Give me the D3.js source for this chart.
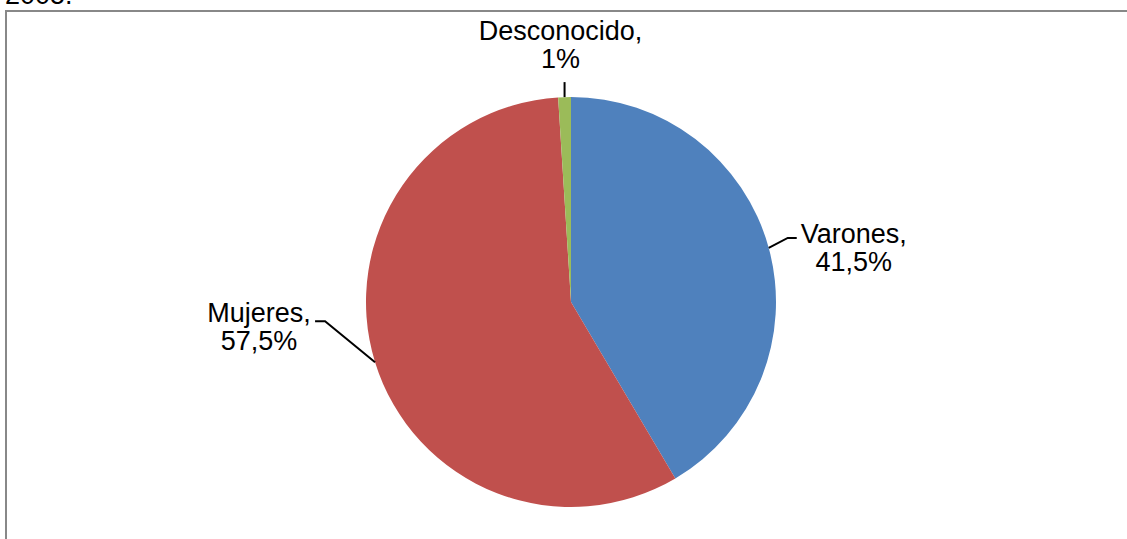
<!DOCTYPE html>
<html>
<head>
<meta charset="utf-8">
<script src="https://cdn.jsdelivr.net/npm/d3@7"></script>
<style>
  html, body { margin: 0; padding: 0; background: #fff; overflow: hidden; }
  svg { display: block; }
  text { font-family: "Liberation Sans", Arial, sans-serif; font-size: 27px; fill: #000; }
</style>
</head>
<body>
<svg id="chart" width="1127" height="539"></svg>
<script>
// ---- data ----
const categories = ["Varones", "Mujeres", "Desconocido"];
const values = [41.5, 57.5, 1];
const valueLabels = ["41,5%", "57,5%", "1%"];
const colors = ["#4F81BD", "#C0504D", "#9BBB59"];
const headerText = "2005.";

// ---- layout ----
const W = 1127, H = 539;
const cx = 571, cy = 302, R = 205;
// leader line geometry per slice: elbow offset from arc point, horizontal tail length, label offset
const leaderLayout = [
  { elbow: [19, -10], tail: 9,  label: [57, 5] },
  { elbow: [-50, -41], tail: -10, label: [-56, 1] },
  { elbow: [0, -15], tail: 0, label: [-4, -42] }
];

const svg = d3.select("#chart");

// header text (cut off at top) and frame
svg.append("text").attr("x", 5).attr("y", 4).text(headerText);
svg.append("rect")
  .attr("x", 6).attr("y", 11)
  .attr("width", W + 20).attr("height", H + 20)
  .attr("fill", "none").attr("stroke", "#888").attr("stroke-width", 2);

const data = categories.map((c, i) => ({ cat: c, value: values[i], label: valueLabels[i], color: colors[i], i }));

const pie = d3.pie().sort(null).value(d => d.value).startAngle(0).endAngle(2 * Math.PI);
const arc = d3.arc().innerRadius(0).outerRadius(R);
const arcs = pie(data);

const g = svg.append("g").attr("transform", `translate(${cx},${cy})`);
g.selectAll("path.slice").data(arcs).enter().append("path")
  .attr("class", "slice")
  .attr("d", arc)
  .attr("fill", d => d.data.color)
  .attr("stroke", "none");

// leader lines and labels
arcs.forEach(a => {
  const mid = (a.startAngle + a.endAngle) / 2;
  const px = cx + R * Math.sin(mid), py = cy - R * Math.cos(mid);
  const L = leaderLayout[a.data.i];
  const ex = px + L.elbow[0], ey = py + L.elbow[1];
  const tx = ex + L.tail;
  svg.append("path")
    .attr("d", d3.line()([[px, py], [ex, ey], [tx, ey]]))
    .attr("fill", "none").attr("stroke", "#000").attr("stroke-width", 2);
  const lx = tx + L.label[0], ly = ey + L.label[1];
  const t = svg.append("text").attr("text-anchor", "middle");
  t.append("tspan").attr("x", lx).attr("y", ly).text(a.data.cat + ",");
  t.append("tspan").attr("x", lx).attr("y", ly + 28).text(a.data.label);
});
</script>
</body>
</html>
